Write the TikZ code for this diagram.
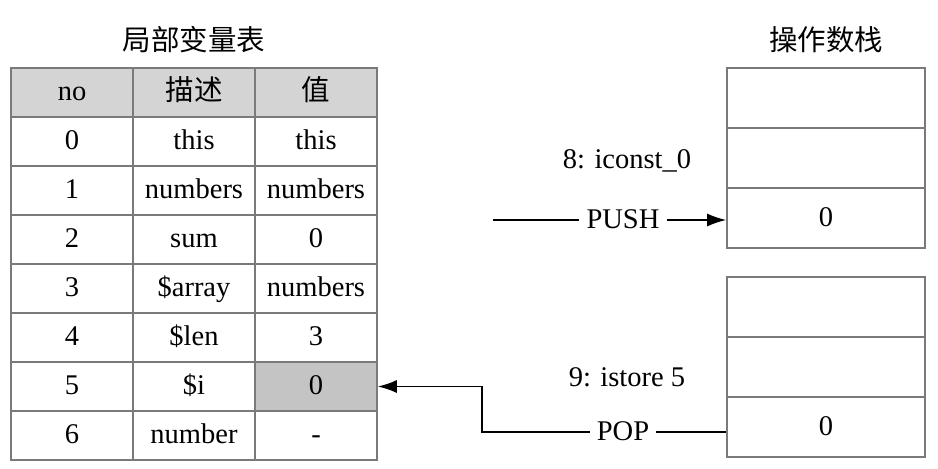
\documentclass[tikz,border=0pt]{standalone}
\usepackage{fontspec}
\setmainfont{Liberation Serif}
\newfontfamily\cjk{Noto Sans CJK SC}
\usetikzlibrary{arrows.meta}
\definecolor{linegray}{HTML}{7A7A7A}
\definecolor{headfill}{HTML}{D4D4D4}
\definecolor{hifill}{HTML}{C4C4C4}
\begin{document}
\begin{tikzpicture}[x=1pt,y=-1pt,
  txt/.style={font=\fontsize{28.5}{32}\selectfont, inner sep=2pt, text height=22pt, text depth=6pt},
  cell/.style={txt, draw=linegray, line width=1.6pt, minimum width=122pt, minimum height=49pt, inner sep=0pt},
  scell/.style={txt, draw=linegray, line width=1.6pt, minimum width=198pt, minimum height=60pt, inner sep=0pt},
  head/.style={cell, fill=headfill},
  hicell/.style={cell, fill=hifill},
  title/.style={font=\cjk\fontsize{28.5}{32}\selectfont},
  conn/.style={line width=1.6pt, black},
  arr/.style={conn, -{Latex[length=19pt,width=13pt]}}
]
\useasboundingbox (0,0) rectangle (938,469);
\node[title] (t1) at (194,40) {局部变量表};
\node[title] (t2) at (826,40) {操作数栈};
% header
\node[head] (h1) at (72,92.5) {no};
\node[head] (h2) at (194,92.5) {\cjk 描述};
\node[head] (h3) at (316,92.5) {\cjk 值};
% rows
\foreach \i/\d/\v [count=\k from 0] in {0/this/this, 1/numbers/numbers, 2/sum/0, 3/\$array/numbers, 4/\$len/3, 5/\$i/0, 6/number/-}{
  \node[cell] (r\k a) at (72,141.5+49*\k) {\i};
  \node[cell] (r\k b) at (194,141.5+49*\k) {\d};
  \ifnum\k=5
    \node[hicell] (r\k c) at (316,141.5+49*\k) {\v};
  \else
    \node[cell] (r\k c) at (316,141.5+49*\k) {\v};
  \fi
}
% stacks
\node[scell] (s11) at (826,98) {};
\node[scell] (s12) at (826,158) {};
\node[scell] (s13) at (826,218) {0};
\node[scell] (s21) at (826,307) {};
\node[scell] (s22) at (826,367) {};
\node[scell] (s23) at (826,427) {0};
% labels
\node[txt] (l8) at (627,160) {8: iconst\_0};
\node[txt, inner sep=7pt] (push) at (623,220) {PUSH};
\node[txt] (l9) at (627,378) {9: istore 5};
\node[txt, inner sep=7pt] (pop) at (623,432) {POP};
% connectors
\coordinate (pstart) at (493,220);
\coordinate (bend) at (482,432);
\draw[conn] (pstart) -- (push.west);
\draw[arr] (push.east) -- (push.east -| s13.west);
\draw[conn] (pop.east -| s23.west) -- (pop.east);
\draw[arr] (pop.west) -- (bend) -- (bend |- r5c.east) -- (r5c.east);
\end{tikzpicture}
\end{document}
